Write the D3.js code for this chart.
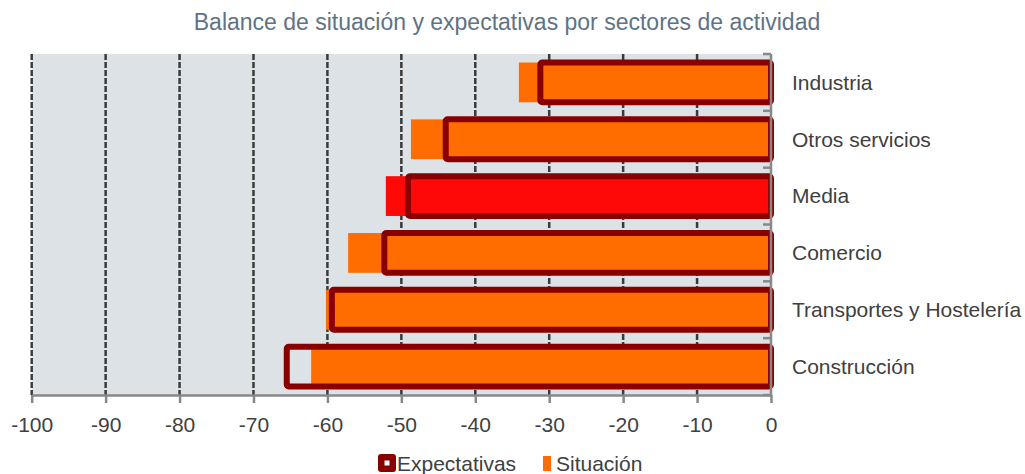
<!DOCTYPE html>
<html>
<head>
<meta charset="utf-8">
<script src="https://cdn.jsdelivr.net/npm/d3@7"></script>
<style>
  body { margin: 0; background: #ffffff; }
  text { font-family: "Liberation Sans", Arial, sans-serif; }
</style>
</head>
<body>
<svg id="vis"></svg>
<script>
// data
const sectores = ["Industria", "Otros servicios", "Media", "Comercio", "Transportes y Hostelería", "Construcción"];
const situacion = [-34.1, -48.7, -52.1, -57.2, -60.2, -62.2];
const expectativas = [-31.2, -44.0, -49.1, -52.3, -59.4, -65.5];
const xTicks = [-100, -90, -80, -70, -60, -50, -40, -30, -20, -10, 0];

const MARGINS = {top: 54, left: 31.7, right: 254, bottom: 79};
const W = 1025, H = 474;

const svg = d3.select("#vis").attr("width", W).attr("height", H);

const x = d3.scaleLinear().domain([-100, 0]).range([MARGINS.left, W - MARGINS.right]);
const y = d3.scaleBand().domain(sectores)
    .range([MARGINS.top, H - MARGINS.bottom])
    .paddingInner(0.3).paddingOuter(0.15);

// plot background
svg.append("rect")
    .attr("x", x(-100)).attr("y", MARGINS.top)
    .attr("width", x(0) - x(-100)).attr("height", H - MARGINS.bottom - MARGINS.top)
    .attr("fill", "#dce2e6");

// dashed gridlines
svg.selectAll(".grid").data(xTicks.filter(d => d < 0)).enter()
    .append("line")
    .attr("x1", d => x(d)).attr("x2", d => x(d))
    .attr("y1", MARGINS.top).attr("y2", H - MARGINS.bottom)
    .attr("stroke", "#3a3a3a").attr("stroke-width", 2.5)
    .attr("stroke-dasharray", "6,2");

// situacion bars
svg.selectAll(".sit").data(sectores).enter()
    .append("rect")
    .attr("x", (d, i) => x(situacion[i]))
    .attr("y", d => y(d))
    .attr("width", (d, i) => x(0) - x(situacion[i]))
    .attr("height", y.bandwidth())
    .attr("fill", d => d === "Media" ? "#ff0808" : "#ff6d00");

// expectativas outlines
svg.selectAll(".exp").data(sectores).enter()
    .append("rect")
    .attr("x", (d, i) => x(expectativas[i]))
    .attr("y", d => y(d))
    .attr("width", (d, i) => x(0) - x(expectativas[i]))
    .attr("height", y.bandwidth())
    .attr("rx", 2)
    .attr("fill", "none")
    .attr("stroke", "#880000").attr("stroke-width", 6);

// bottom axis
const xAxis = svg.append("g")
    .attr("transform", "translate(0," + (H - MARGINS.bottom) + ")")
    .call(d3.axisBottom(x).tickValues(xTicks).tickSize(8).tickPadding(14).tickSizeOuter(0)
        .tickFormat(d => String(d)));
xAxis.select(".domain").attr("stroke", "#888").attr("stroke-width", 2.5);
xAxis.selectAll(".tick line").attr("stroke", "#888").attr("stroke-width", 2.5);
xAxis.selectAll("text")
    .attr("fill", "#404040").attr("font-size", 21)
    .attr("font-family", "Liberation Sans, Arial, sans-serif");

// right axis with category labels
const bounds = sectores.map(d => y(d) - (y.step() - y.bandwidth()) / 2).concat([H - MARGINS.bottom]);
svg.append("line")
    .attr("x1", x(0)).attr("x2", x(0))
    .attr("y1", MARGINS.top).attr("y2", H - MARGINS.bottom)
    .attr("stroke", "#888").attr("stroke-width", 2.5);
svg.selectAll(".ytick").data(bounds).enter()
    .append("line")
    .attr("x1", x(0) - 8).attr("x2", x(0))
    .attr("y1", d => d).attr("y2", d => d)
    .attr("stroke", "#888").attr("stroke-width", 2.5);
svg.selectAll(".ylab").data(sectores).enter()
    .append("text")
    .attr("x", x(0) + 21)
    .attr("y", d => y(d) + y.bandwidth() / 2)
    .attr("dy", "0.35em")
    .attr("fill", "#404040").attr("font-size", 21)
    .text(d => d);

// title
svg.append("text")
    .attr("x", 507).attr("y", 30)
    .attr("text-anchor", "middle")
    .attr("fill", "#5e7386").attr("font-size", 23)
    .text("Balance de situación y expectativas por sectores de actividad");

// legend
const leg = svg.append("g");
leg.append("rect").attr("x", 378).attr("y", 454).attr("width", 18).attr("height", 18)
    .attr("rx", 3).attr("fill", "#880000");
leg.append("rect").attr("x", 384.5).attr("y", 460.5).attr("width", 5).attr("height", 5)
    .attr("fill", "#ffffff");
leg.append("text").attr("x", 397).attr("y", 471).attr("fill", "#404040")
    .attr("font-size", 21).text("Expectativas");
leg.append("rect").attr("x", 543).attr("y", 456).attr("width", 8).attr("height", 15)
    .attr("fill", "#ff6d00");
leg.append("text").attr("x", 556).attr("y", 471).attr("fill", "#404040")
    .attr("font-size", 21).text("Situación");
</script>
</body>
</html>
